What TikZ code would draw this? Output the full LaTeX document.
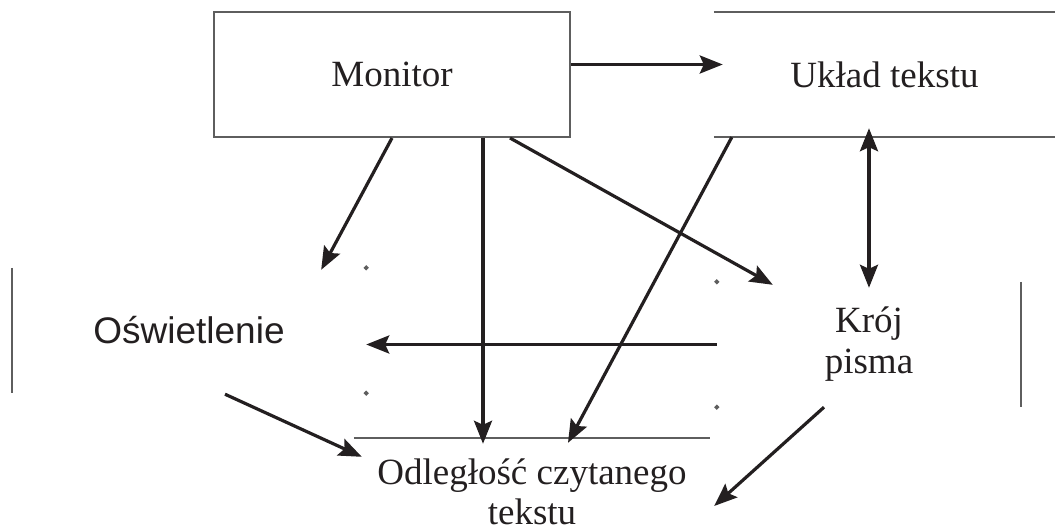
\documentclass[tikz,border=0pt]{standalone}
\usepackage{fontspec}
\setmainfont{Liberation Serif}
\newfontfamily\oswfont{Liberation Sans}
\usetikzlibrary{arrows.meta,calc}
\definecolor{ink}{HTML}{231F20}
\definecolor{rim}{HTML}{5E5E5E}
\begin{document}
\begin{tikzpicture}[x=1pt,y=-1pt,
    pole/.style={minimum width=#1,minimum height=125pt,inner sep=0pt,
      align=center,text=ink,font=\fontsize{37}{41}\selectfont},
    rim/.style={draw=rim,line width=2pt},
    tip/.tip={Stealth[length=23pt,width=18pt,inset=4pt]},
    link/.style={draw=ink,line width=3.2pt,-tip},
    twoway/.style={link,tip-tip}]
    \useasboundingbox (0,0) rectangle (1055,532);
    % pola (bez pełnych ramek, jak w oryginale)
    \node[pole=356pt,rim] (mon) at (392,74.5) {Monitor};
    \node[pole=341pt] (uk) at (884.5,74.5) {Układ tekstu};
    \node[pole=354pt] (osw) at (189,330.5) {\oswfont Oświetlenie};
    \node[pole=304pt] (kroj) at (869,344.5) {Krój\\pisma};
    \node[pole=356pt,minimum height=108pt,font=\fontsize{37}{40}\selectfont] (odl) at (532,492) {Odległość czytanego\\tekstu};
    % resztki ramek
    \draw[rim] (uk.north west) -- (uk.north east);
    \draw[rim] (uk.south west) -- (uk.south east);
    \draw[rim] (osw.north west) -- (osw.south west);
    \draw[rim] (kroj.north east) -- (kroj.south east);
    \draw[rim] (odl.north west) -- (odl.north east);
    \foreach \c in {osw.north east,osw.south east,kroj.north west,kroj.south west}
        \fill[rim] (\c) circle (1.3pt); % narożniki
    % strzałki
    \draw[link] ($(mon.east)+(0,-10)$) -- ($(uk.west)+(9,-10)$);
    \draw[link] (mon.south) -- ($(osw.north east)+(-45,2)$);
    \draw[link] ($(mon.south)+(91,0)$) -- ($(odl.north)+(-49,6)$);
    \draw[link] ($(mon.south)+(118,0)$) -- ($(kroj.north west)+(56,3)$);
    \draw[link] ($(uk.south west)+(18,0)$) -- ($(odl.north)+(36,5)$);
    \draw[twoway] ($(uk.south -| kroj.north)+(0,-9)$) -- ($(kroj.north)+(0,6)$);
    \draw[link] (kroj.west) -- (kroj.west -| osw.east);
    \draw[link] ($(osw.south)+(36,1)$) -- ($(odl.north west)+(8,19)$);
    \draw[link] ($(kroj.south)+(-45,0)$) -- ($(odl.east)+(4,14)$);
\end{tikzpicture}
\end{document}
